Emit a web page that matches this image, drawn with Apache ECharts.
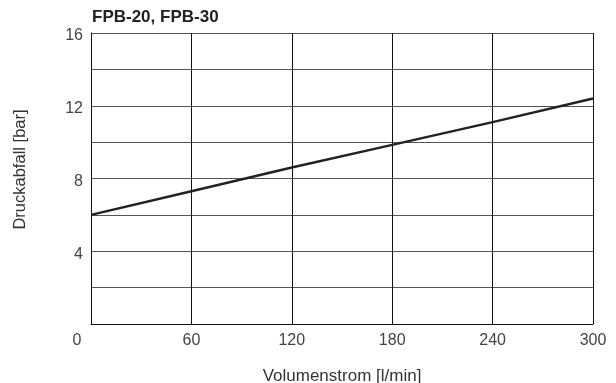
<!DOCTYPE html>
<html>
<head>
<meta charset="utf-8">
<script src="https://cdn.jsdelivr.net/npm/echarts@6/dist/echarts.min.js"></script>
<style>html,body{margin:0;padding:0;background:#fff}#c{width:616px;height:383px}</style>
</head>
<body>
<div id="c"></div>
<script>
const titleText = 'FPB-20, FPB-30';
const xName = 'Volumenstrom [l/min]';
const yName = 'Druckabfall [bar]';
const flow = [0, 60, 120, 180, 240, 300];
const pressure = [6.0, 7.3, 8.6, 9.85, 11.1, 12.4];

const chart = echarts.init(document.getElementById('c'));
const font = 'Liberation Sans, Arial, Helvetica, sans-serif';
chart.setOption({
  animation: false,
  backgroundColor: '#fff',
  title: {
    text: titleText, left: 92, top: 9, padding: 0,
    textStyle: {fontFamily: font, fontSize: 17, fontWeight: 'bold', color: '#222'}
  },
  grid: {left: 91, right: 23, top: 33, bottom: 59, show: false, containLabel: false, outerBoundsMode: 'none'},
  xAxis: {
    type: 'value', min: 0, max: 300, interval: 60,
    name: xName, nameLocation: 'middle', nameGap: 44,
    nameTextStyle: {fontFamily: font, fontSize: 17, color: '#333'},
    axisLine: {show: true, lineStyle: {color: '#111', width: 1}},
    axisTick: {show: false},
    splitLine: {show: true, lineStyle: {color: '#111', width: 1}},
    axisLabel: {
      fontFamily: font, fontSize: 16, color: '#444', margin: 9,
      formatter: v => v === 0 ? '{o|0}' : String(v),
      rich: {o: {fontFamily: font, fontSize: 16, color: '#444', padding: [0, 28, 0, 0]}}
    }
  },
  yAxis: {
    type: 'value', min: 0, max: 16, interval: 2,
    name: yName, nameLocation: 'middle', nameGap: 62, nameRotate: 90,
    nameTextStyle: {fontFamily: font, fontSize: 16.5, color: '#333', padding: [0, 0, 0, 18]},
    axisLine: {show: true, lineStyle: {color: '#111', width: 1}},
    axisTick: {show: false},
    splitLine: {show: true, lineStyle: {color: '#555', width: 1}},
    axisLabel: {
      fontFamily: font, fontSize: 16, color: '#444', margin: 8,
      verticalAlign: 'top', lineHeight: 6,
      formatter: v => (v % 4 === 0 && v !== 0) ? String(v) : ''
    }
  },
  series: [{
    type: 'line',
    data: flow.map((x, i) => [x, pressure[i]]),
    showSymbol: false,
    lineStyle: {color: '#222', width: 2.5},
    silent: true
  }]
});
</script>
</body>
</html>
